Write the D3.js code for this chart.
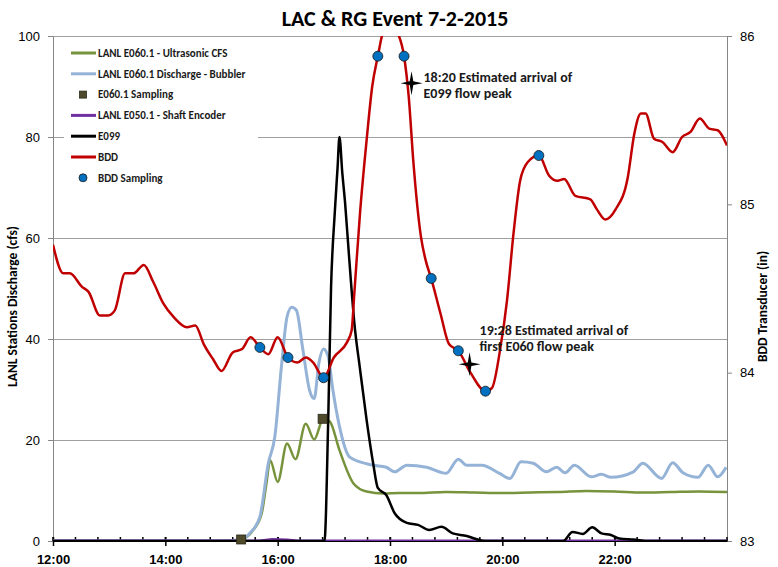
<!DOCTYPE html>
<html>
<head>
<meta charset="utf-8">
<script src="https://cdn.jsdelivr.net/npm/d3@7"></script>
<style>
  body { margin: 0; background: #fff; }
  svg { font-family: Carlito, Lato, "Liberation Sans", sans-serif; }
</style>
</head>
<body>
<div id="chart"></div>
<script>
// ---- data ----
var titleText = "LAC & RG Event 7-2-2015";
var xTickLabels = ["12:00", "14:00", "16:00", "18:00", "20:00", "22:00"];
var leftTicks = [0, 20, 40, 60, 80, 100];
var rightTicks = [83, 84, 85, 86];

// LANL E060.1 - Ultrasonic CFS (left axis, cfs)
var ultraTimes = ["12:00","15:00","15:21","15:34","15:43","15:48","15:52","16:00","16:10","16:19","16:30","16:39","16:49","16:56","17:06","17:21","17:35","17:53","18:10","18:30","19:00","19:30","20:00","20:30","21:00","21:30","22:00","22:30","23:00","23:30","24:00"];
var ultraCfs = [0,0,0.3,2.2,5.5,11.4,16.0,11.7,19.3,16.2,23.2,20.1,24.3,23.6,18.0,11.4,9.8,9.4,9.5,9.5,9.7,9.6,9.5,9.6,9.7,9.9,9.8,9.6,9.7,9.8,9.7];

// LANL E060.1 Discharge - Bubbler (left axis, cfs)
var bubTimes = ["12:00","15:00","15:21","15:30","15:41","15:50","15:57","16:04","16:10","16:15","16:20","16:27","16:34","16:39","16:44","16:49","16:54","16:59","17:06","17:17","17:35","17:42","17:56","18:05","18:18","18:39","19:00","19:13","19:22","19:38","19:57","20:08","20:20","20:33","20:47","20:58","21:07","21:17","21:35","21:46","21:56","22:20","22:30","22:50","23:02","23:13","23:29","23:40","23:50","23:59"];
var bubCfs = [0,0,0.3,1.5,4.8,15.4,20.7,34.5,44.4,46.3,45.7,37.8,29.9,28.2,35.2,38.0,36.5,29.9,22.7,16.6,15.3,15.0,14.6,13.7,15.0,14.6,13.4,16.2,15.0,15.0,13.4,12.4,15.7,15.4,13.7,14.6,13.5,15.0,12.7,13.2,12.6,13.7,15.4,12.4,15.5,13.5,12.6,15.0,12.7,14.6];

// E060.1 Sampling (left axis)
var e060SampleTimes = ["15:21", "16:48"];
var e060SampleCfs = [0.3, 24.2];

// LANL E050.1 - Shaft Encoder (left axis)
var shaftTimes = ["12:00","15:40","15:55","16:10","16:25","24:00"];
var shaftCfs = [0,0,0.3,0.2,0,0];

// E099 (left axis)
var e099Times = ["12:00","16:50","16:54","16:57","17:01","17:04","17:06","17:09","17:12","17:16","17:22","17:28","17:35","17:42","17:47","17:56","18:05","18:18","18:30","18:42","18:55","19:07","19:22","19:30","19:41","21:05","21:15","21:26","21:36","21:46","21:56","22:05","22:20","22:37","24:00"];
var e099Cfs = [0,0,24,50,65,74,80,73,67,57,43,34,24,15.4,10.5,9.1,5.5,3.6,3.2,2.2,2.8,1.5,1.0,0.5,0,0,1.8,1.4,2.7,1.5,1.2,0.5,0.3,0,0];

// BDD transducer (right axis, inches)
var bddTimes = ["12:00","12:11","12:18","12:31","12:38","12:50","12:59","13:06","13:17","13:26","13:37","13:47","13:58","14:09","14:23","14:32","14:41","14:51","15:00","15:12","15:22","15:31","15:41","15:50","16:00","16:11","16:21","16:30","16:38","16:49","17:00","17:14","17:19","17:22","17:28","17:35","17:41","17:47","17:53","18:00","18:08","18:15","18:20","18:25","18:33","18:38","18:44","18:54","19:03","19:13","19:26","19:42","19:49","19:58","20:05","20:12","20:19","20:27","20:39","20:50","20:59","21:06","21:18","21:34","21:41","21:50","22:01","22:14","22:21","22:28","22:33","22:42","22:51","23:02","23:12","23:21","23:31","23:41","23:50","24:00"];
var bddInches = [84.76,84.59,84.59,84.51,84.48,84.34,84.34,84.37,84.59,84.59,84.64,84.54,84.41,84.33,84.27,84.28,84.17,84.08,84.01,84.12,84.14,84.21,84.15,84.11,84.21,84.09,84.06,84.09,84.06,83.97,84.09,84.18,84.25,84.48,84.95,85.38,85.70,85.88,86.03,86.07,86.02,85.88,85.64,85.25,84.81,84.67,84.56,84.35,84.17,84.13,84.00,83.89,83.91,84.15,84.43,84.83,85.14,85.25,85.29,85.17,85.14,85.15,85.05,85.03,84.97,84.91,84.97,85.16,85.42,85.54,85.54,85.39,85.37,85.31,85.40,85.43,85.51,85.45,85.44,85.35];

// BDD Sampling (right axis)
var bddSampleTimes = ["15:41","16:11","16:49","17:47","18:15","18:44","19:13","19:42","20:39"];
var bddSampleInches = [84.15,84.09,83.97,85.88,85.88,84.56,84.13,83.89,85.29];

// annotations (stars on the BDD axis)
var noteTimes = ["18:23", "19:25"];
var noteInches = [85.72, 84.05];
var noteLines = [["18:20 Estimated arrival of", "E099 flow peak"],
                 ["19:28 Estimated arrival of", "first E060 flow peak"]];

var legendLabels = ["LANL E060.1 - Ultrasonic CFS", "LANL E060.1 Discharge - Bubbler", "E060.1 Sampling",
                    "LANL E050.1 - Shaft Encoder", "E099", "BDD", "BDD Sampling"];

// ---- chart ----
var W = 778, H = 567;
var margin = { top: 36, right: 51, bottom: 26, left: 53 };
var width = W - margin.left - margin.right,
    height = H - margin.top - margin.bottom;

var GREEN = "#77933C", BLUE = "#95B3D7", OLIVE = "#4F4A2C", PURPLE = "#7030A0",
    BLACK = "#000000", RED = "#C00000", DOT = "#0070C0";

function parseT(s) {
    var p = s.split(":");
    return new Date(2015, 6, 2, +p[0], +p[1]);
}
function zip(times, vals) {
    return times.map(function(t, i) { return { t: parseT(t), v: vals[i] }; });
}

var svg = d3.select("#chart").append("svg")
    .attr("width", W).attr("height", H)
    .append("g")
    .attr("transform", "translate(" + margin.left + "," + margin.top + ")");

var x = d3.scaleTime().domain([parseT("12:00"), parseT("24:00")]).range([0, width]);
var yL = d3.scaleLinear().domain([0, 100]).range([height, 0]);
var yR = d3.scaleLinear().domain([83, 86]).range([height, 0]);

// title
svg.append("text")
    .attr("x", width / 2 + 5).attr("y", -10)
    .attr("text-anchor", "middle")
    .style("font-size", "22px").style("font-weight", "bold")
    .text(titleText);

// gridlines
svg.append("g")
    .selectAll("line")
    .data(leftTicks.slice(1))
    .enter().append("line")
    .attr("x1", 0).attr("x2", width)
    .attr("y1", function(d) { return yL(d) + 0.5; })
    .attr("y2", function(d) { return yL(d) + 0.5; })
    .style("stroke", "#A0A0A0").style("stroke-width", 1);

// left axis
var gl = svg.append("g")
    .call(d3.axisLeft(yL).tickValues(leftTicks).tickSize(5).tickPadding(8).tickSizeOuter(0));
gl.select(".domain").style("stroke", "#868686");
gl.selectAll(".tick line").style("stroke", "#868686");
gl.selectAll("text").style("font-size", "13px").style("fill", "#000").style("font-family", "inherit");

// right axis
var gr = svg.append("g")
    .attr("transform", "translate(" + width + ",0)")
    .call(d3.axisRight(yR).tickValues(rightTicks).tickFormat(d3.format("d"))
        .tickSize(5).tickPadding(8).tickSizeOuter(0));
gr.select(".domain").style("stroke", "#868686");
gr.selectAll(".tick line").style("stroke", "#868686");
gr.selectAll("text").style("font-size", "13px").style("fill", "#000").style("font-family", "inherit");

// bottom axis: minor ticks every 24 minutes, major every 2 hours
var minorTicks = d3.range(0, 12 * 60 + 1, 24).map(function(m) {
    return new Date(parseT("12:00").getTime() + m * 60000);
});
svg.append("g")
    .selectAll("line")
    .data(minorTicks)
    .enter().append("line")
    .attr("x1", function(d) { return x(d); }).attr("x2", function(d) { return x(d); })
    .attr("y1", height - 4).attr("y2", height)
    .style("stroke", "#000").style("stroke-width", 1.5);

var xMajor = xTickLabels.map(parseT);
var gb = svg.append("g")
    .attr("transform", "translate(0," + height + ")")
    .call(d3.axisBottom(x).tickValues(xMajor).tickFormat(d3.timeFormat("%H:%M"))
        .tickSize(5).tickPadding(9).tickSizeOuter(0));
gb.select(".domain").style("stroke", "#000");
gb.selectAll(".tick line").attr("y1", -4).style("stroke", "#000").style("stroke-width", 1.5);
gb.selectAll("text").style("font-size", "13px").style("font-weight", "bold")
    .style("fill", "#000").style("font-family", "inherit");

// axis titles
svg.append("text")
    .attr("transform", "translate(" + (-36) + "," + (height / 2 + 18) + ") rotate(-90)")
    .attr("text-anchor", "middle")
    .style("font-size", "13.5px").style("font-weight", "bold")
    .text("LANL Stations Discharge (cfs)");
svg.append("text")
    .attr("transform", "translate(" + (width + 40) + "," + (height / 2 + 18) + ") rotate(-90)")
    .attr("text-anchor", "middle")
    .style("font-size", "13.5px").style("font-weight", "bold")
    .text("BDD Transducer (in)");

// clip to plot
svg.append("clipPath").attr("id", "plotclip")
    .append("rect").attr("x", 0).attr("y", 0).attr("width", width).attr("height", height);

var plot = svg.append("g").attr("clip-path", "url(#plotclip)");

var lineL = d3.line().x(function(d) { return x(d.t); }).y(function(d) { return yL(d.v); })
    .curve(d3.curveMonotoneX);
var lineR = d3.line().x(function(d) { return x(d.t); }).y(function(d) { return yR(d.v); })
    .curve(d3.curveMonotoneX);

function drawLine(data, gen, color, w) {
    plot.append("path")
        .datum(data)
        .attr("d", gen)
        .style("fill", "none")
        .style("stroke", color)
        .style("stroke-width", w)
        .style("stroke-linejoin", "round");
}

drawLine(zip(ultraTimes, ultraCfs), lineL, GREEN, 2.5);
drawLine(zip(bubTimes, bubCfs), lineL, BLUE, 3);
drawLine(zip(shaftTimes, shaftCfs), lineL, PURPLE, 3);
drawLine(zip(e099Times, e099Cfs), lineL, BLACK, 2.5);
drawLine(zip(bddTimes, bddInches), lineR, RED, 2.5);

// sampling markers
svg.append("g")
    .selectAll("rect")
    .data(zip(e060SampleTimes, e060SampleCfs))
    .enter().append("rect")
    .attr("x", function(d) { return x(d.t) - 4.5; })
    .attr("y", function(d) { return yL(d.v) - 4.5; })
    .attr("width", 9).attr("height", 9)
    .style("fill", OLIVE).style("stroke", "#2a2818").style("stroke-width", 0.8);

svg.append("g")
    .selectAll("circle")
    .data(zip(bddSampleTimes, bddSampleInches))
    .enter().append("circle")
    .attr("cx", function(d) { return x(d.t); })
    .attr("cy", function(d) { return yR(d.v); })
    .attr("r", 5)
    .style("fill", DOT).style("stroke", "#1a1a1a").style("stroke-width", 0.8);

// annotations
var star = "M0,-12 L1.8,-1.8 L11,0 L1.8,1.8 L0,12 L-1.8,1.8 L-11,0 L-1.8,-1.8Z";
var notes = zip(noteTimes, noteInches);
var noteOffsets = [{ dx: 12, dy: -1 }, { dx: 10, dy: -29 }];
notes.forEach(function(d, i) {
    svg.append("path")
        .attr("d", star)
        .attr("transform", "translate(" + x(d.t) + "," + yR(d.v) + ")")
        .style("fill", "#000");
    var t = svg.append("text")
        .attr("x", x(d.t) + noteOffsets[i].dx)
        .attr("y", yR(d.v) + noteOffsets[i].dy)
        .style("font-size", "14px").style("font-weight", "bold").style("fill", "#1a1a1a");
    noteLines[i].forEach(function(s, j) {
        t.append("tspan")
            .attr("x", x(d.t) + noteOffsets[i].dx)
            .attr("dy", j === 0 ? 0 : 16)
            .text(s);
    });
});

// legend
var legendKinds = [
    { type: "line", color: GREEN }, { type: "line", color: BLUE }, { type: "square", color: OLIVE },
    { type: "line", color: PURPLE }, { type: "line", color: BLACK }, { type: "line", color: RED },
    { type: "circle", color: DOT }
];
var legend = svg.append("g").attr("transform", "translate(11,4)");
legend.append("rect")
    .attr("x", 0).attr("y", 0).attr("width", 194).attr("height", 150)
    .style("fill", "#fff");
legendLabels.forEach(function(label, i) {
    var cy = 13 + i * 20.8;
    var k = legendKinds[i];
    if (k.type === "line") {
        legend.append("line")
            .attr("x1", 7).attr("x2", 32).attr("y1", cy).attr("y2", cy)
            .style("stroke", k.color).style("stroke-width", 3);
    } else if (k.type === "square") {
        legend.append("rect")
            .attr("x", 15.5).attr("y", cy - 3.5).attr("width", 7).attr("height", 7)
            .style("fill", k.color).style("stroke", "#2a2818").style("stroke-width", 0.8);
    } else {
        legend.append("circle")
            .attr("cx", 19).attr("cy", cy).attr("r", 4)
            .style("fill", k.color).style("stroke", "#1a1a1a").style("stroke-width", 0.8);
    }
    legend.append("text")
        .attr("x", 34).attr("y", cy)
        .attr("dy", "0.35em")
        .style("font-size", "11px").style("font-weight", "bold").style("fill", "#1a1a1a")
        .text(label);
});
</script>
</body>
</html>
